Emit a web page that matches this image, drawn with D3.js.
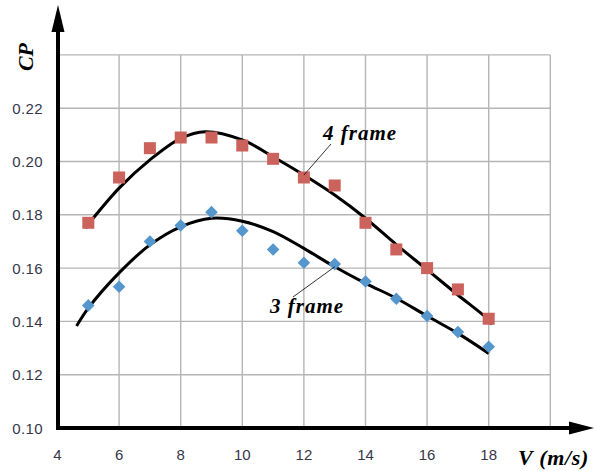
<!DOCTYPE html>
<html>
<head>
<meta charset="utf-8">
<script src="https://cdn.jsdelivr.net/npm/d3@7"></script>
<style>
  html, body { margin: 0; padding: 0; background: #fff; }
  svg { display: block; }
</style>
</head>
<body>
<svg id="chart" width="594" height="471"></svg>
<script>
// Wind speed (m/s) at which each point was measured
const speeds = [5, 6, 7, 8, 9, 10, 11, 12, 13, 14, 15, 16, 17, 18];

// Power coefficient, 4-frame rotor (squares)
const cp4 = [0.177, 0.194, 0.205, 0.209, 0.209, 0.206, 0.201, 0.194, 0.191, 0.177, 0.167, 0.160, 0.152, 0.141];

// Power coefficient, 3-frame rotor (diamonds)
const cp3 = [0.146, 0.153, 0.170, 0.176, 0.181, 0.174, 0.167, 0.162, 0.1615, 0.155, 0.1485, 0.142, 0.136, 0.1305];

// Trend curve samples, 4 frame
const trend4X = [4.9, 6, 7, 8, 8.8, 10, 11, 12, 13, 14, 15, 16, 17, 18, 18.1];
const trend4Y = [0.175, 0.190, 0.2006, 0.2087, 0.2112, 0.2081, 0.2018, 0.1949, 0.1874, 0.1787, 0.1688, 0.1594, 0.1499, 0.1405, 0.1388];

// Trend curve samples, 3 frame
const trend3X = [4.62, 5, 6, 7, 8, 9, 10, 11, 12, 13, 14, 15, 16, 17, 18];
const trend3Y = [0.1383, 0.145, 0.1582, 0.1687, 0.1755, 0.1787, 0.1776, 0.1737, 0.1674, 0.1605, 0.1543, 0.1487, 0.1420, 0.1355, 0.128];

// Axis ticks
const xTicks = [4, 6, 8, 10, 12, 14, 16, 18];
const yTicks = [0.10, 0.12, 0.14, 0.16, 0.18, 0.20, 0.22];
const xGrid = [6, 8, 10, 12, 14, 16, 18, 20];
const yGrid = [0.12, 0.14, 0.16, 0.18, 0.20, 0.22, 0.24];

const svg = d3.select("#chart");

const x = d3.scaleLinear().domain([4, 20]).range([57.5, 550.3]);
const y = d3.scaleLinear().domain([0.10, 0.24]).range([428, 54.9]);

// Grid
const grid = svg.append("g").attr("stroke", "#b5b5b5").attr("stroke-width", 1.4);
grid.selectAll("line.v").data(xGrid).join("line")
  .attr("x1", d => x(d)).attr("x2", d => x(d))
  .attr("y1", y(0.10)).attr("y2", y(0.24));
grid.selectAll("line.h").data(yGrid).join("line")
  .attr("x1", x(4)).attr("x2", x(20))
  .attr("y1", d => y(d)).attr("y2", d => y(d));

// Tick labels
const tickFont = "Arial, 'Liberation Sans', sans-serif";
svg.append("g").selectAll("text").data(yTicks).join("text")
  .attr("x", 43).attr("y", d => y(d))
  .attr("text-anchor", "end").attr("dominant-baseline", "central")
  .attr("font-family", tickFont).attr("font-size", 15).attr("fill", "#36364a")
  .attr("letter-spacing", 0.4)
  .text(d => d3.format(".2f")(d));

svg.append("g").selectAll("text").data(xTicks).join("text")
  .attr("x", d => x(d)).attr("y", 454)
  .attr("text-anchor", "middle").attr("dominant-baseline", "central")
  .attr("font-family", tickFont).attr("font-size", 15).attr("fill", "#36364a")
  .text(d => d);

// Trend curves
const line = d3.line().x(d => x(d[0])).y(d => y(d[1])).curve(d3.curveCatmullRom.alpha(0.5));
svg.append("path").datum(d3.zip(trend4X, trend4Y))
  .attr("d", line).attr("fill", "none").attr("stroke", "#000").attr("stroke-width", 3);
svg.append("path").datum(d3.zip(trend3X, trend3Y))
  .attr("d", line).attr("fill", "none").attr("stroke", "#000").attr("stroke-width", 3);

// Markers: squares for 4 frame
const sq = 12;
svg.append("g").selectAll("rect").data(d3.zip(speeds, cp4)).join("rect")
  .attr("x", d => x(d[0]) - sq / 2).attr("y", d => y(d[1]) - sq / 2)
  .attr("width", sq).attr("height", sq)
  .attr("fill", "#cc625c");

// Markers: diamonds for 3 frame
const dm = 6.3;
svg.append("g").selectAll("path").data(d3.zip(speeds, cp3)).join("path")
  .attr("d", d => {
    const cx = x(d[0]), cy = y(d[1]);
    return `M${cx},${cy - dm}L${cx + dm},${cy}L${cx},${cy + dm}L${cx - dm},${cy}Z`;
  })
  .attr("fill", "#5596cc");

// Axes with arrowheads
svg.append("line").attr("x1", 58).attr("x2", 58).attr("y1", 430).attr("y2", 25)
  .attr("stroke", "#000").attr("stroke-width", 4);
svg.append("path").attr("d", "M58,5 L64.5,32 L51.5,32 Z").attr("fill", "#000");
svg.append("line").attr("x1", 56).attr("x2", 575).attr("y1", 428).attr("y2", 428)
  .attr("stroke", "#000").attr("stroke-width", 4);
svg.append("path").attr("d", "M594,428 L569,421.5 L569,434.5 Z").attr("fill", "#000");

// Axis titles
const serif = "'Times New Roman', 'Liberation Serif', 'DejaVu Serif', serif";
svg.append("text")
  .attr("transform", "translate(33,57) rotate(-90)")
  .attr("text-anchor", "middle")
  .attr("font-family", serif).attr("font-style", "italic").attr("font-weight", "bold")
  .attr("font-size", 22).attr("fill", "#000")
  .text("CP");
svg.append("text")
  .attr("x", 518).attr("y", 465)
  .attr("font-family", serif).attr("font-style", "italic").attr("font-weight", "bold")
  .attr("font-size", 22).attr("letter-spacing", 0.7).attr("fill", "#000")
  .text("V (m/s)");

// Series labels with leader lines
svg.append("line").attr("x1", 331).attr("y1", 144).attr("x2", x(12)).attr("y2", y(0.1949))
  .attr("stroke", "#000").attr("stroke-width", 0.8);
svg.append("text").attr("x", 323).attr("y", 140)
  .attr("font-family", serif).attr("font-style", "italic").attr("font-weight", "bold")
  .attr("font-size", 21).attr("letter-spacing", 1).attr("fill", "#000")
  .text("4 frame");

svg.append("line").attr("x1", 293).attr("y1", 297).attr("x2", x(13)).attr("y2", y(0.1605))
  .attr("stroke", "#000").attr("stroke-width", 0.8);
svg.append("text").attr("x", 270).attr("y", 313)
  .attr("font-family", serif).attr("font-style", "italic").attr("font-weight", "bold")
  .attr("font-size", 21).attr("letter-spacing", 1).attr("fill", "#000")
  .text("3 frame");
</script>
</body>
</html>
